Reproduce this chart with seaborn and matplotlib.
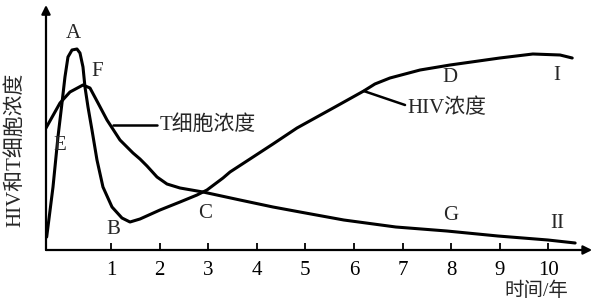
import matplotlib
matplotlib.use("Agg")
import matplotlib.pyplot as plt
import seaborn as sns
import pandas as pd

# HIV concentration curve (time in years, relative level)
hiv_years = [-0.323, -0.193, -0.091, -0.008, 0.053, 0.115, 0.198, 0.300, 0.362, 0.424,
             0.465, 0.527, 0.609, 0.712, 0.835, 1.021, 1.226, 1.391, 1.597, 2.008,
             2.420, 2.770, 2.975, 3.305, 3.449, 3.86, 4.333, 4.827, 5.609, 6.2,
             6.43, 6.74, 7.05, 7.36, 7.977, 9.0, 9.68, 10.24, 10.49]
hiv_level = [13, 63, 113, 147, 173, 193, 200, 201, 197, 183,
             163, 143, 120, 90, 63, 43, 32, 28, 31, 40,
             48, 55, 60, 72, 78, 91, 106, 122, 143, 159,
             166, 172, 176, 180, 185, 192, 196, 195, 192]

# T-cell concentration curve
t_years = [-0.337, -0.049, 0.156, 0.424, 0.568, 0.733, 0.918, 1.185, 1.453, 1.597,
           1.741, 1.947, 2.152, 2.42, 2.893, 3.654, 4.333, 4.889, 5.79, 6.86,
           7.91, 8.96, 9.99, 10.55]
t_level = [122, 147, 158, 165, 162, 147, 130, 110, 97, 91,
           84, 73, 66, 62, 58, 50, 43, 38, 30, 23,
           19, 14, 10, 7]

x_ticks = [1, 2, 3, 4, 5, 6, 7, 8, 9, 10]
point_labels = ["A", "F", "E", "B", "C", "D", "I", "G", "II"]
point_x = [0.218, 0.71, -0.05, 1.04, 2.93, 7.98, 10.18, 7.98, 10.18]
point_y = [217, 178, 104, 20, 37, 172, 175, 35, 27]

sns.set_style("white")
FAM = ["Liberation Serif", "Noto Sans CJK SC"]
plt.rcParams["font.family"] = FAM

W, H = 597, 304
fig = plt.figure(figsize=(W / 100, H / 100), dpi=100)
ax = fig.add_axes([46 / W, 54 / H, 551 / W, 250 / H])
ax.set_xlim(-0.337, 11.0)
ax.set_ylim(0, 250)

hiv_df = pd.DataFrame({"t": hiv_years, "v": hiv_level})
t_df = pd.DataFrame({"t": t_years, "v": t_level})
sns.lineplot(data=hiv_df, x="t", y="v", ax=ax, color="black", lw=2.2, sort=False)
sns.lineplot(data=t_df, x="t", y="v", ax=ax, color="black", lw=2.2, sort=False)
for ln in ax.lines:
    ln.set_solid_joinstyle("round")
    ln.set_solid_capstyle("round")

for s in ax.spines.values():
    s.set_visible(False)

# axes arrows
ax.annotate("", xy=(10.9, 0), xytext=(-0.337, 0), xycoords="data",
            arrowprops=dict(arrowstyle="-|>", lw=1.6, color="black", mutation_scale=13,
                            shrinkA=0, shrinkB=0), annotation_clip=False)
ax.annotate("", xy=(-0.337, 245), xytext=(-0.337, 0), xycoords="data",
            arrowprops=dict(arrowstyle="-|>", lw=1.6, color="black", mutation_scale=13,
                            shrinkA=0, shrinkB=0), annotation_clip=False)

ax.set_xticks(x_ticks)
ax.set_xticklabels([str(v) for v in x_ticks])
ax.set_yticks([])
ax.tick_params(axis="x", direction="in", length=5, width=1.3, pad=8,
               labelsize=15, colors="black", bottom=True)
ax.set_xlabel("")
ax.set_ylabel("")

for lab, x, y in zip(point_labels, point_x, point_y):
    ax.text(x, y, lab, ha="center", va="center", fontsize=15, family=FAM)

# curve name callouts
ax.plot([1.04, 1.947], [125, 125], color="black", lw=1.8)
ax.text(2.01, 125, "T细胞浓度", ha="left", va="center", fontsize=15, family=FAM)
ax.plot([6.2, 7.05], [159, 145], color="black", lw=1.8)
ax.text(7.09, 142, "HIV浓度", ha="left", va="center", fontsize=15, family=FAM)

ax.text(9.76, -41, "时间/年", ha="center", va="center", fontsize=14, family=FAM,
        clip_on=False)
ax.text(-0.975, 100, "HIV和T细胞浓度", ha="center", va="center", rotation=90,
        fontsize=15, family=FAM, clip_on=False)

fig.savefig("out.png", dpi=100)
